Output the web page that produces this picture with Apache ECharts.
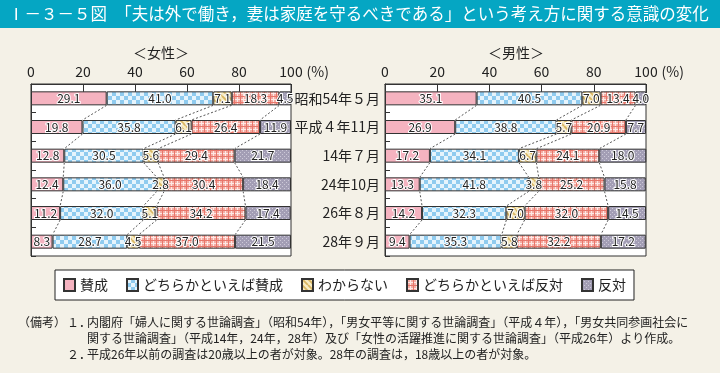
<!DOCTYPE html>
<html><head><meta charset="utf-8">
<script src="https://cdn.jsdelivr.net/npm/echarts@6/dist/echarts.min.js"></script>
<style>html,body{margin:0;padding:0;background:#f4f1e7}#c{width:720px;height:373px}</style>
</head><body><div id="c"></div>
<script>
const categories = ['昭和54年５月','平成４年11月','14年７月','24年10月','26年８月','28年９月'];
const seriesNames = ['賛成','どちらかといえば賛成','わからない','どちらかといえば反対','反対'];
const femaleAgree = [29.1,19.8,12.8,12.4,11.2,8.3];
const femaleSomewhatAgree = [41.0,35.8,30.5,36.0,32.0,28.7];
const femaleDontKnow = [7.1,6.1,5.6,2.8,5.1,4.5];
const femaleSomewhatDisagree = [18.3,26.4,29.4,30.4,34.2,37.0];
const femaleDisagree = [4.5,11.9,21.7,18.4,17.4,21.5];
const maleAgree = [35.1,26.9,17.2,13.3,14.2,9.4];
const maleSomewhatAgree = [40.5,38.8,34.1,41.8,32.3,35.3];
const maleDontKnow = [7.0,5.7,6.7,3.8,7.0,5.8];
const maleSomewhatDisagree = [13.4,20.9,24.1,25.2,32.0,32.2];
const maleDisagree = [4.0,7.7,18.0,15.8,14.5,17.2];
const panelTitles = ['＜女性＞','＜男性＞'];
const titleText = 'Ⅰ－３－５図　「夫は外で働き，妻は家庭を守るべきである」という考え方に関する意識の変化';
const noteHead = '（備考）';
const noteNums = ['１．','２．'];
const noteLines = [
  '内閣府「婦人に関する世論調査」（昭和54年），「男女平等に関する世論調査」（平成４年），「男女共同参画社会に',
  '関する世論調査」（平成14年，24年，28年）及び「女性の活躍推進に関する世論調査」（平成26年）より作成。',
  '平成26年以前の調査は20歳以上の者が対象。28年の調査は，18歳以上の者が対象。'
];

const FONT = '"Noto Sans CJK JP","Noto Sans",sans-serif';
const female = [femaleAgree, femaleSomewhatAgree, femaleDontKnow, femaleSomewhatDisagree, femaleDisagree];
const male = [maleAgree, maleSomewhatAgree, maleDontKnow, maleSomewhatDisagree, maleDisagree];

function mk(w,h,draw){const c=document.createElement('canvas');c.width=w;c.height=h;const g=c.getContext('2d');draw(g);return {image:c,repeat:'repeat'};}
const pAgree = '#f5b3c0';
const pSomeAgree = mk(8,8,g=>{g.fillStyle='#8fcbef';g.fillRect(0,0,8,8);g.fillStyle='#e6f4fc';g.fillRect(0,0,4,4);g.fillRect(4,4,4,4);});
const pDK = mk(6,6,g=>{g.fillStyle='#f7ecc4';g.fillRect(0,0,6,6);g.strokeStyle='#d9b663';g.lineWidth=1.8;g.beginPath();for(let k=-6;k<=12;k+=6){g.moveTo(k,0);g.lineTo(k+6,6);}g.stroke();});
const pSomeDis = mk(6,6,g=>{g.fillStyle='#f4aea5';g.fillRect(0,0,6,6);g.fillStyle='#fde8e5';g.fillRect(0,3,6,1);g.fillRect(3,0,1,6);g.fillStyle='#e8766b';g.fillRect(0,0,6,1);g.fillRect(0,0,1,6);});
const pDis = mk(4,4,g=>{g.fillStyle='#a39eb5';g.fillRect(0,0,4,4);g.fillStyle='#cdc9d8';g.fillRect(0,0,1,1);g.fillRect(2,2,1,1);});
const fills = [pAgree,pSomeAgree,pDK,pSomeDis,pDis];
const BAR_H = 14;

function bars(data, idx, stack){
  return data.map((d,k)=>({
    name:seriesNames[k], type:'bar', stack, xAxisIndex:idx, yAxisIndex:idx, barWidth:BAR_H, data:d, z:3,
    itemStyle:{color:fills[k], borderColor:'#333', borderWidth:1},
    emphasis:{disabled:true},
    label:{show:true, position:'inside', fontSize:12, color:'#222', textBorderColor:'#fff', textBorderWidth:2,
      fontFamily:FONT, formatter:p=>p.value.toFixed(1)}
  }));
}
function connectors(data, idx){
  const cum = categories.map((_,i)=>{let s=0;return data.slice(0,4).map(d=>(s+=d[i]));});
  return {type:'custom', xAxisIndex:idx, yAxisIndex:idx, silent:true, z:2,
    data: categories.slice(0,-1).map((_,i)=>[0,i]),
    encode:{x:0,y:1},
    renderItem:(params,api)=>{
      const i = params.dataIndex; const half = BAR_H/2;
      const children = cum[i].map((v,k)=>{
        const a = api.coord([v,i]); const b = api.coord([cum[i+1][k], i+1]);
        return {type:'line', shape:{x1:a[0],y1:a[1]+half,x2:b[0],y2:b[1]-half}, style:{stroke:'#555',lineWidth:1,lineDash:[2,2]}};
      });
      return {type:'group', children};
    }
  };
}
function xAx(i){
  return {gridIndex:i, type:'value', position:'top', min:0, max:100, interval:20,
    axisLine:{show:true,lineStyle:{color:'#333'}},
    axisTick:{show:true,inside:true,length:9,lineStyle:{color:'#333'}},
    splitLine:{show:false},
    axisLabel:{fontSize:14,color:'#222',margin:5,fontFamily:FONT},
    name:'(%)', nameLocation:'end', nameGap:9,
    nameTextStyle:{fontSize:14,color:'#222',fontFamily:FONT,verticalAlign:'bottom',padding:[0,0,5,0]}};
}
function yAx(i){
  return {gridIndex:i, type:'category', data:categories, inverse:true,
    axisLine:{show:true,lineStyle:{color:'#333'}},
    axisTick:{show:true,inside:true,length:5,lineStyle:{color:'#333'}},
    axisLabel:{show:i===1,fontSize:14,color:'#222',margin:5,fontFamily:FONT}};
}
const chart = echarts.init(document.getElementById('c'), null, {renderer:'canvas'});
const gridBase = {top:84, height:172, show:true, backgroundColor:'#fff', borderColor:'#333', borderWidth:1};
chart.setOption({
  backgroundColor:'#f4f1e7',
  animation:false,
  textStyle:{fontFamily:FONT},
  grid:[Object.assign({left:31,width:260},gridBase), Object.assign({left:385,width:261},gridBase)],
  xAxis:[xAx(0),xAx(1)],
  yAxis:[yAx(0),yAx(1)],
  legend:{data:seriesNames, top:270, left:55, icon:'rect', itemWidth:11, itemHeight:12, itemGap:18, padding:[8,8],
    borderColor:'#222', borderWidth:1, backgroundColor:'#fff', selectedMode:false,
    textStyle:{fontSize:14,color:'#222',fontFamily:FONT}},
  series:[...bars(female,0,'f'), ...bars(male,1,'m'), connectors(female,0), connectors(male,1)],
  graphic:[
    {type:'rect', x:0, y:0, shape:{width:720,height:28}, style:{fill:'#05a6c3'}},
    {type:'text', x:8, y:14, style:{text:titleText, fill:'#fff', fontSize:16.5, fontFamily:FONT, verticalAlign:'middle'}},
    {type:'text', x:161, y:53, style:{text:panelTitles[0], fill:'#222', fontSize:14, fontFamily:FONT, align:'center', verticalAlign:'middle'}},
    {type:'text', x:516, y:53, style:{text:panelTitles[1], fill:'#222', fontSize:14, fontFamily:FONT, align:'center', verticalAlign:'middle'}},
    {type:'text', x:18, y:322, style:{text:noteHead, fill:'#222', fontSize:12, fontFamily:FONT, verticalAlign:'middle'}},
    {type:'text', x:67, y:322, style:{text:noteNums[0], fill:'#222', fontSize:12, fontFamily:FONT, verticalAlign:'middle'}},
    {type:'text', x:87, y:322, style:{text:noteLines[0], fill:'#222', fontSize:12, fontFamily:FONT, verticalAlign:'middle'}},
    {type:'text', x:87, y:338, style:{text:noteLines[1], fill:'#222', fontSize:12, fontFamily:FONT, verticalAlign:'middle'}},
    {type:'text', x:67, y:354, style:{text:noteNums[1], fill:'#222', fontSize:12, fontFamily:FONT, verticalAlign:'middle'}},
    {type:'text', x:87, y:354, style:{text:noteLines[2], fill:'#222', fontSize:12, fontFamily:FONT, verticalAlign:'middle'}}
  ]
});
</script></body></html>
